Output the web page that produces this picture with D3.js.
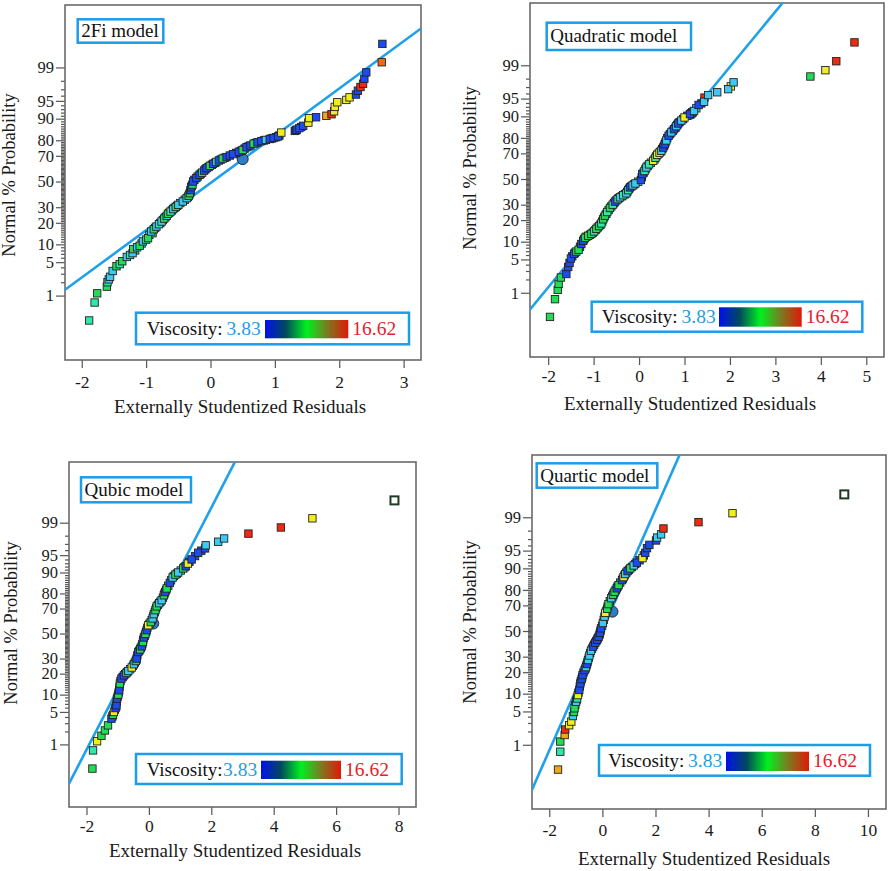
<!DOCTYPE html>
<html><head><meta charset="utf-8">
<script src="https://cdn.jsdelivr.net/npm/d3@7"></script>
<style>
body{margin:0;background:#fff}
svg{display:block}
svg text{font-family:"Liberation Serif","LiberationSerif","Tinos","Times New Roman","DejaVu Serif","Noto Serif",serif !important}
</style>
</head><body>
<svg id="chart" width="888" height="871"></svg>
<script>
// ---------------- DATA ----------------
const modelNames = ["2Fi model", "Quadratic model", "Qubic model", "Quartic model"];
const xAxisTitle = "Externally Studentized Residuals";
const yAxisTitle = "Normal % Probability";
const legendTitle = "Viscosity:";
const viscosityRange = [3.83, 16.62];
const probTicks = [1, 5, 10, 20, 30, 50, 70, 80, 90, 95, 99];
const probMinorTicks = d3.range(2, 99).filter(p => !probTicks.includes(p));
const xTicks2Fi = [-2, -1, 0, 1, 2, 3];
const xTicksQuadratic = [-2, -1, 0, 1, 2, 3, 4, 5];
const xTicksQubic = [-2, 0, 2, 4, 6, 8];
const xTicksQuartic = [-2, 0, 2, 4, 6, 8, 10];

// [residual, normal % probability, viscosity]
const points2Fi = [
 [-1.885,0.23,8],[-1.80,0.68,8],[-1.76,1.13,9.5],[-1.61,1.6,9.5],[-1.60,2.0,8],[-1.58,2.3,6.5],
 [-1.56,2.6,6.5],[-1.52,3.4,6.5],[-1.46,4.2,9.5],[-1.41,4.6,8],[-1.37,5.2,9.5],[-1.30,6.2,6.5],
 [-1.25,6.7,8],[-1.21,7.2,6.5],[-1.20,8.4,9.5],[-1.14,9.0,6.5],[-1.10,9.5,9.5],[-1.05,11.1,6.5],
 [-1.00,11.8,8],[-0.97,12.4,9.5],[-0.92,15.4,6.5],[-0.88,16.5,9.5],[-0.84,17.9,6.5],[-0.80,19.2,8],
 [-0.76,20.7,6.5],[-0.72,22.5,9.5],[-0.68,24.2,6.5],[-0.66,25.5,9.5],[-0.62,27.0,8],[-0.58,28.7,6.5],
 [-0.54,30.2,9.5],[-0.50,31.7,6.5],[-0.43,34.2,6.5],[-0.37,36.7,6.5],[-0.34,38.5,9.5],[-0.32,40.6,9.5],
 [-0.31,43.0,4.6],[-0.30,45.4,4.6],[-0.28,47.5,9.5],[-0.27,50,4.6],[-0.22,52.8,4.6],[-0.17,55.4,4.6],
 [-0.13,57.2,8],[-0.10,58.8,4.6],[-0.06,60.8,4.6],[-0.01,62.5,9.5],[0.04,64.1,4.6],[0.09,65.5,6.5],
 [0.13,66.6,4.6],[0.19,68.0,9.5],[0.25,69.1,4.6],[0.30,70.2,4.6],[0.35,71.2,4.6],[0.44,72.8,4.6],
 [0.50,74.0,9.5],[0.56,75.8,4.6],[0.62,76.9,4.6],[0.67,78,9.5],[0.73,78.8,4.6],[0.79,79.5,4.6],
 [0.86,80.2,6.5],[0.92,80.7,4.6],[0.98,81.3,4.6],[1.05,82.1,4.6],[1.10,84.1,12.5],[1.31,84.9,3.9],
 [1.34,85.5,4.6],[1.38,86.2,4.6],[1.44,87.2,4.6],[1.52,88.5,12.5],[1.53,90.2,12.5],[1.64,90.5,4.6],
 [1.80,91,14],[1.88,91.5,16],[1.92,92.4,12.5],[1.93,93.6,12.5],[1.97,94.7,12.5],[2.11,95.2,12.5],
 [2.16,95.7,12.5],[2.26,96.2,4.6],[2.29,96.8,4.6],[2.33,97.3,16],[2.37,97.7,16],[2.39,98.2,4.6],
 [2.42,98.7,4.6],[2.66,99.25,15],[2.67,99.75,4.6]
];
// further overlapping runs visible inside the dense band
const band2Fi = [
 [-1.17,8.0,8],[-1.07,10.3,8],[-0.95,13.8,6.5],[-0.90,14.6,8],[-0.86,17.2,9.5],[-0.78,19.9,6.5],
 [-0.74,21.6,8],[-0.70,23.3,6.5],[-0.64,26.2,6.5],[-0.60,27.8,9.5],[-0.56,29.5,6.5],[-0.52,31.0,8],
 [-0.47,33.0,6.5],[-0.40,35.5,9.5],[-0.35,37.6,6.5],[-0.33,39.5,4.6],[-0.31,41.8,9.5],[-0.29,46.5,4.6],
 [-0.25,51.4,4.6],[-0.20,54.0,9.5],[-0.15,56.3,4.6],[-0.08,59.8,4.6],[-0.03,61.6,4.6],[0.02,63.3,4.6],
 [0.07,64.8,4.6],[0.16,67.3,4.6],[0.22,68.6,4.6],[0.40,72.0,4.6],[0.47,73.4,4.6],[0.53,74.9,4.6],
 [0.59,76.3,9.5],[0.70,78.4,4.6],[0.83,79.9,4.6],[0.95,81.0,4.6],[1.02,81.7,4.6],[1.07,82.6,4.6],
 [1.33,85.2,3.9],[1.41,86.7,4.6]
];
const pointsQuadratic = [
 [-1.96,0.24,9.5],[-1.85,0.7,9.5],[-1.79,1.17,9.5],[-1.77,1.6,9.5],[-1.72,2.2,9.5],[-1.60,2.6,4.6],
 [-1.56,3.6,4.6],[-1.53,4.3,4.6],[-1.50,5.2,4.6],[-1.43,6.3,4.6],[-1.38,6.9,9.5],[-1.33,7.4,9.5],
 [-1.27,9.2,4.6],[-1.23,10.3,4.6],[-1.19,11.5,9.5],[-1.12,12.3,9.5],[-1.05,13.1,9.5],[-0.99,14.2,8],
 [-0.94,15.4,9.5],[-0.88,16.8,9.5],[-0.83,18.2,8],[-0.79,20.5,9.5],[-0.75,22.7,9.5],[-0.70,25.0,8],
 [-0.64,27.7,9.5],[-0.58,30.0,8],[-0.53,32.2,4.6],[-0.47,34.0,8],[-0.42,35.4,6.5],[-0.35,37.0,8],
 [-0.28,38.5,6.5],[-0.24,41.0,8],[-0.20,43.2,4.6],[-0.14,44.8,6.5],[-0.08,46.4,6.5],[0.04,49.2,4.6],
 [0.07,54,4.6],[0.12,56.5,8],[0.16,59.3,6.5],[0.22,61.8,8],[0.31,64.5,12.5],[0.36,66.8,8],
 [0.40,69,12.5],[0.45,70.5,12.5],[0.49,71.8,6.5],[0.53,74.0,4.6],[0.565,76.2,4.6],[0.60,78.5,6.5],
 [0.65,81.2,4.6],[0.71,83.0,6.5],[0.77,84.6,4.6],[0.82,86.0,6.5],[0.86,87.2,4.6],[0.93,88.4,6.5],
 [1.00,89.6,12.5],[1.12,90.8,4.6],[1.21,91.8,6.5],[1.31,93.5,4.6],[1.44,95.2,16],[1.43,94.3,6.5],
 [1.52,95.7,6.5],[1.72,96.2,6.5],[2.02,97.1,12.5],[1.96,96.7,6.5],[2.08,97.6,6.5],[3.77,98.2,9.5],
 [4.10,98.7,12.5],[4.34,99.2,16],[4.74,99.74,16]
];
const bandQuadratic = [
 [-1.47,5.7,4.6],[-1.41,6.6,9.5],[-1.30,8.3,4.6],[-1.21,10.9,9.5],[-1.16,11.9,9.5],[-1.08,12.7,9.5],
 [-1.02,13.6,9.5],[-0.96,14.8,9.5],[-0.91,16.1,8],[-0.85,17.5,9.5],[-0.81,19.3,9.5],[-0.77,21.6,8],
 [-0.72,23.8,9.5],[-0.67,26.3,9.5],[-0.61,28.8,9.5],[-0.55,31.1,4.6],[-0.50,33.1,8],[-0.45,34.7,4.6],
 [-0.38,36.2,6.5],[-0.31,37.8,6.5],[-0.26,39.7,8],[-0.22,42.1,4.6],[-0.17,44.0,6.5],[-0.11,45.6,4.6],
 [-0.02,47.8,6.5],[0.06,51.5,4.6],[0.10,55.2,4.6],[0.14,57.9,8],[0.19,60.5,6.5],[0.26,63.1,8],
 [0.34,65.6,12.5],[0.38,67.9,6.5],[0.43,69.8,12.5],[0.47,71.1,6.5],[0.51,73.0,4.6],[0.55,75.1,4.6],
 [0.58,77.3,6.5],[0.62,79.8,4.6],[0.68,82.1,4.6],[0.74,83.8,6.5],[0.80,85.3,4.6],[0.84,86.6,6.5],
 [0.89,87.8,4.6],[0.97,89.0,4.6],[1.06,90.2,4.6],[1.17,91.3,4.6],[1.26,92.6,6.5],[1.37,93.9,4.6]
];
const pointsQubic = [
 [-1.81,0.23,9.5],[-1.79,0.71,8],[-1.66,1.19,12.5],[-1.52,1.6,9.5],[-1.41,2.1,9.5],[-1.31,2.7,9.5],
 [-1.20,3.7,4.6],[-1.15,4.4,9.5],[-1.12,5.0,12.5],[-1.07,5.9,4.6],[-1.04,6.6,4.6],[-1.02,8.6,4.6],
 [-0.98,10.0,9.5],[-0.95,11.7,4.6],[-0.93,14.7,9.5],[-0.88,17.2,4.6],[-0.80,19,4.6],[-0.72,20.4,9.5],
 [-0.66,21.6,6.5],[-0.55,23.8,12.5],[-0.48,26,6.5],[-0.42,28.2,9.5],[-0.39,30,4.6],[-0.34,34.9,4.6],
 [-0.28,37.0,9.5],[-0.23,39.4,4.6],[-0.19,43.0,9.5],[-0.16,46.7,4.6],[-0.11,49.8,9.5],[-0.07,52.8,4.6],
 [-0.02,56.9,12.5],[0.06,59.5,9.5],[0.12,62.5,6.5],[0.16,65.8,6.5],[0.21,68.8,9.5],[0.25,71.6,9.5],
 [0.33,73.8,6.5],[0.41,75.8,6.5],[0.48,78.9,9.5],[0.52,80.8,4.6],[0.57,82.8,9.5],[0.67,85.6,4.6],
 [0.76,88,6.5],[0.85,89.2,9.5],[0.94,90,6.5],[1.10,91.4,9.5],[1.18,92.1,4.6],[1.25,92.9,12.5],
 [1.37,94,4.6],[1.58,95.5,4.6],[1.80,96.3,4.6],[1.82,96.8,6.5],[2.22,97.3,6.5],[2.41,97.7,6.5],
 [3.19,98.2,16],[4.23,98.7,16],[5.24,99.22,12.5]
];
const bandQubic = [
 [-1.17,4.1,9.5],[-1.09,5.5,9.5],[-1.05,6.2,12.5],[-1.03,7.6,4.6],[-1.00,9.3,9.5],[-0.97,10.8,4.6],
 [-0.94,13.2,4.6],[-0.91,15.9,9.5],[-0.84,18.1,4.6],[-0.76,19.7,9.5],[-0.69,21.0,4.6],[-0.60,22.7,6.5],
 [-0.51,24.9,6.5],[-0.45,27.1,12.5],[-0.40,29.1,6.5],[-0.37,32.4,4.6],[-0.31,35.9,4.6],[-0.26,38.2,4.6],
 [-0.21,41.2,4.6],[-0.18,44.8,4.6],[-0.13,48.2,4.6],[-0.09,51.3,4.6],[-0.05,54.8,9.5],[0.02,58.2,9.5],
 [0.09,61.0,6.5],[0.14,64.1,6.5],[0.19,67.3,9.5],[0.23,70.2,6.5],[0.29,72.7,9.5],[0.37,74.8,6.5],
 [0.45,77.4,9.5],[0.50,79.9,9.5],[0.55,81.8,4.6],[0.62,84.2,9.5],[0.71,86.8,6.5],[0.80,88.6,9.5],
 [0.90,89.6,4.6],[1.02,90.7,6.5],[1.14,91.8,12.5],[1.30,93.4,4.6],[1.48,94.8,4.6],[1.68,95.9,4.6]
];
const pointsQuartic = [
 [-1.67,0.23,14],[-1.585,0.68,8],[-1.585,1.19,9.5],[-1.42,1.67,14],[-1.40,2.2,16],[-1.25,2.7,12.5],
 [-1.17,3.2,12.5],[-1.11,4.1,6.5],[-1.07,4.9,9.5],[-1.05,5.7,9.5],[-0.99,7.4,6.5],[-0.95,8.4,8],
 [-0.92,9.5,12.5],[-0.87,11.4,4.6],[-0.83,14.2,4.6],[-0.78,16.3,4.6],[-0.745,18.4,4.6],[-0.67,21.2,4.6],
 [-0.62,23.0,6.5],[-0.58,25,4.6],[-0.54,27.7,6.5],[-0.49,30.8,6.5],[-0.43,34.4,6.5],[-0.35,37.5,4.6],
 [-0.27,40.5,4.6],[-0.20,43.0,4.6],[-0.14,45.3,4.6],[-0.09,48.5,4.6],[-0.05,52.2,4.6],[0.02,56.5,6.5],
 [0.08,61.5,6.5],[0.11,64.5,12.5],[0.18,67.5,9.5],[0.23,70.9,9.5],[0.335,74.9,6.5],[0.40,77.0,9.5],
 [0.46,78.9,9.5],[0.54,80.9,4.6],[0.61,82.6,9.5],[0.74,85.1,4.6],[0.80,86.5,12.5],[0.86,87.8,6.5],
 [0.95,89.0,4.6],[1.05,90,9.5],[1.18,91.0,6.5],[1.30,91.9,4.6],[1.51,93.2,12.5],[1.615,94.5,4.6],
 [1.68,95.5,4.6],[1.77,96.1,4.6],[2.02,96.8,4.6],[2.06,97.2,6.5],[2.21,97.6,6.5],[2.30,98.2,16],
 [3.62,98.7,16],[4.90,99.2,12.5]
];
const bandQuartic = [
 [-1.02,6.5,9.5],[-0.97,7.9,9.5],[-0.90,10.4,4.6],[-0.85,12.8,4.6],[-0.81,15.2,4.6],[-0.76,17.3,4.6],
 [-0.71,19.8,4.6],[-0.64,22.1,6.5],[-0.60,24.0,4.6],[-0.56,26.3,4.6],[-0.51,29.2,6.5],[-0.46,32.6,4.6],
 [-0.39,35.9,6.5],[-0.31,39.0,4.6],[-0.23,41.8,4.6],[-0.17,44.1,4.6],[-0.11,46.9,4.6],[-0.07,50.3,4.6],
 [-0.01,54.3,6.5],[0.05,59.0,6.5],[0.10,63.0,6.5],[0.15,66.0,9.5],[0.20,69.2,6.5],[0.28,72.9,9.5],
 [0.37,76.0,6.5],[0.43,78.0,9.5],[0.50,79.9,9.5],[0.57,81.8,4.6],[0.67,83.9,9.5],[0.77,85.8,4.6],
 [0.83,87.2,6.5],[0.90,88.4,9.5],[1.00,89.5,4.6],[1.11,90.5,9.5],[1.24,91.5,4.6],[1.40,92.6,4.6],
 [1.56,93.9,4.6]
];
// highlighted (circle) run per panel: [residual, %]
const circlePoints = [[0.50,67.6],[1.15,91.0],[0.14,58.3],[0.38,65.4]];
// hollow outlier per panel
const hollowPoints = [null, null, [7.87,99.74], [9.11,99.74]];
// reference line in normal-score units: [intercept, slope]
const fitLines = [[-0.03,0.964],[0.04,1.128],[0.10,1.27],[0.02,1.232]];

// ---------------- LAYOUT ----------------
const layout = [
 {frame:[65,5,421,360], xDom:[-2.26,3.27], ticks:xTicks2Fi, pts:points2Fi, band:band2Fi,
  title:[77.7,19.3,163.3,42.7], legend:[136,312.7,409,344.3], bar:[265,320,348.3,338.3], lx:[146.7,226.5],
  xt:[240,413], yt:[15,175], pad:8},
 {frame:[530,3,884,357], xDom:[-2.40,5.39], ticks:xTicksQuadratic, pts:pointsQuadratic, band:bandQuadratic,
  title:[546.7,22.7,691,50], legend:[591.7,301.7,862.3,331.7], bar:[719,307.3,801.7,326.7], lx:[601.7,681.5],
  xt:[690,410], yt:[476,168], pad:5},
 {frame:[69,462,416,807], xDom:[-2.56,8.56], ticks:xTicksQubic, pts:pointsQubic, band:bandQubic,
  title:[81,477.3,191,502.3], legend:[136,754,401.7,784], bar:[261,760.7,341,779], lx:[146.7,223],
  xt:[235,857], yt:[17,623], pad:5},
 {frame:[532,455,886,809], xDom:[-2.65,10.68], ticks:xTicksQuartic, pts:pointsQuartic, band:bandQuartic,
  title:[536.7,463.3,657.3,487.7], legend:[599,745,870,775.7], bar:[726,751.7,809,771], lx:[608.3,688],
  xt:[704,865], yt:[476,622], pad:7}
];
const zDomain = [-3.64, 3.60];
const boxBlue = "#1c9de8";
const serif = "'Liberation Serif','Tinos','Times New Roman','DejaVu Serif',serif";
const sq = 7.4;

// inverse normal CDF (Acklam) used as the probability-axis transform
function probit(p){
 const a=[-3.969683028665376e+01,2.209460984245205e+02,-2.759285104469687e+02,1.383577518672690e+02,-3.066479806614716e+01,2.506628277459239e+00];
 const b=[-5.447609879822406e+01,1.615858368580409e+02,-1.556989798598866e+02,6.680131188771972e+01,-1.328068155288572e+01];
 const c=[-7.784894002430293e-03,-3.223964580411365e-01,-2.400758277161838e+00,-2.549732539343734e+00,4.374664141464968e+00,2.938163982698783e+00];
 const d=[7.784695709041462e-03,3.224671290700398e-01,2.445134137142996e+00,3.754408661907416e+00];
 const pl=0.02425, ph=1-pl; let q,r;
 if(p<pl){q=Math.sqrt(-2*Math.log(p));return (((((c[0]*q+c[1])*q+c[2])*q+c[3])*q+c[4])*q+c[5])/((((d[0]*q+d[1])*q+d[2])*q+d[3])*q+1);}
 if(p<=ph){q=p-0.5;r=q*q;return (((((a[0]*r+a[1])*r+a[2])*r+a[3])*r+a[4])*r+a[5])*q/(((((b[0]*r+b[1])*r+b[2])*r+b[3])*r+b[4])*r+1);}
 q=Math.sqrt(-2*Math.log(1-p));return -(((((c[0]*q+c[1])*q+c[2])*q+c[3])*q+c[4])*q+c[5])/((((d[0]*q+d[1])*q+d[2])*q+d[3])*q+1);
}

const pointColor = d3.scaleLinear()
 .domain([3.83, 4.6, 6.5, 8, 9.5, 12.5, 14, 16, 16.62])
 .range(['#1a2470','#1a4cf0','#3ccaf2','#30e8a8','#22dc55','#f2ee1e','#f0a818','#f02a10','#e81010']);

const svg = d3.select("#chart").attr("font-family", serif);
const defs = svg.append("defs");
const grad = defs.append("linearGradient").attr("id","vgrad");
[[0,'#0010ec'],[0.25,'#004a5c'],[0.5,'#00f020'],[0.75,'#7c7a20'],[1,'#e01808']].forEach(s=>
 grad.append("stop").attr("offset",s[0]).attr("stop-color",s[1]));

layout.forEach((L, i) => {
 const [x0,y0,x1,y1] = L.frame;
 const x = d3.scaleLinear().domain(L.xDom).range([x0,x1]);
 const z = d3.scaleLinear().domain(zDomain).range([y1,y0]);
 const y = p => z(probit(p/100));
 const g = svg.append("g");

 defs.append("clipPath").attr("id","clip"+i).append("rect")
  .attr("x",x0).attr("y",y0).attr("width",x1-x0).attr("height",y1-y0);

 // axes
 const xa = d3.axisBottom(x).tickValues(L.ticks).tickSize(8).tickPadding(L.pad).tickFormat(d=>String(d));
 const gx = g.append("g").attr("transform",`translate(0,${y1})`).call(xa);
 const ya = d3.axisLeft(z).tickValues(probTicks.map(p=>probit(p/100))).tickSize(9).tickPadding(2)
  .tickFormat((d,k)=>probTicks[k]);
 const gy = g.append("g").attr("transform",`translate(${x0},0)`).call(ya);
 const ym = d3.axisLeft(z).tickValues(probMinorTicks.map(p=>probit(p/100))).tickSize(4).tickFormat("");
 const gm = g.append("g").attr("transform",`translate(${x0},0)`).call(ym);
 [gx,gy,gm].forEach(a=>{
  a.attr("font-family", serif);
  a.select(".domain").remove();
  a.selectAll("line").attr("stroke","#555").attr("stroke-width",1.2);
  a.selectAll("text").attr("font-family",serif).attr("font-size",17.5).attr("fill","#1a1a1a");
 });
 gy.selectAll("text").attr("font-size",16.5);

 // frame
 g.append("rect").attr("x",x0).attr("y",y0).attr("width",x1-x0).attr("height",y1-y0)
  .attr("fill","none").attr("stroke","#6a6a6a").attr("stroke-width",1.6);

 // titles
 g.append("text").attr("x",L.xt[0]).attr("y",L.xt[1]).attr("text-anchor","middle")
  .attr("font-size",19).attr("fill","#1a1a1a").text(xAxisTitle);
 g.append("text").attr("transform",`translate(${L.yt[0]},${L.yt[1]}) rotate(-90)`).attr("text-anchor","middle")
  .attr("font-size",18.5).attr("fill","#1a1a1a").text(yAxisTitle);

 // reference line
 const [a0,b0] = fitLines[i];
 g.append("line").attr("clip-path",`url(#clip${i})`)
  .attr("x1",x(L.xDom[0])).attr("y1",z(a0+b0*L.xDom[0]))
  .attr("x2",x(L.xDom[1])).attr("y2",z(a0+b0*L.xDom[1]))
  .attr("stroke","#1ea0ea").attr("stroke-width",2.6);

 // points
 const pg = g.append("g").attr("clip-path",`url(#clip${i})`);
 const cp = circlePoints[i];
 pg.append("circle").attr("cx",x(cp[0])).attr("cy",y(cp[1])).attr("r",5.5)
  .attr("fill","#2a7fc4").attr("stroke","#1b2a40").attr("stroke-width",1);
 pg.selectAll("rect.bd").data(L.band).join("rect").attr("class","bd")
  .attr("x",d=>x(d[0])-sq/2).attr("y",d=>y(d[1])-sq/2).attr("width",sq).attr("height",sq)
  .attr("fill",d=>pointColor(d[2])).attr("stroke","#222").attr("stroke-width",0.9);
 pg.selectAll("rect.pt").data(L.pts).join("rect").attr("class","pt")
  .attr("x",d=>x(d[0])-sq/2).attr("y",d=>y(d[1])-sq/2).attr("width",sq).attr("height",sq)
  .attr("fill",d=>pointColor(d[2])).attr("stroke","#222").attr("stroke-width",0.9);
 if (hollowPoints[i]) {
  const h = hollowPoints[i];
  pg.append("rect").attr("x",x(h[0])-4).attr("y",y(h[1])-4).attr("width",8).attr("height",8)
   .attr("fill","#fff").attr("stroke","#1d3a24").attr("stroke-width",2);
 }

 // model title box
 const T = L.title;
 g.append("rect").attr("x",T[0]).attr("y",T[1]).attr("width",T[2]-T[0]).attr("height",T[3]-T[1])
  .attr("fill","#fff").attr("stroke",boxBlue).attr("stroke-width",2.5);
 g.append("text").attr("x",T[0]+3.5).attr("y",(T[1]+T[3])/2+6).attr("font-size",19).attr("fill","#111")
  .text(modelNames[i]);

 // legend
 const G = L.legend, B = L.bar;
 g.append("rect").attr("x",G[0]).attr("y",G[1]).attr("width",G[2]-G[0]).attr("height",G[3]-G[1])
  .attr("fill","#fff").attr("stroke",boxBlue).attr("stroke-width",2.5);
 const by = (G[1]+G[3])/2+6.5;
 g.append("text").attr("x",L.lx[0]).attr("y",by).attr("font-size",19).attr("fill","#111").text(legendTitle);
 g.append("text").attr("x",L.lx[1]).attr("y",by).attr("font-size",19.5)
  .attr("fill","#1e9be8").text(String(viscosityRange[0]));
 g.append("rect").attr("x",B[0]).attr("y",B[1]).attr("width",B[2]-B[0]).attr("height",B[3]-B[1])
  .attr("fill","url(#vgrad)");
 g.append("text").attr("x",B[2]+4).attr("y",by).attr("font-size",19.5)
  .attr("fill","#e8202a").text(String(viscosityRange[1]));
});
</script>
</body></html>
